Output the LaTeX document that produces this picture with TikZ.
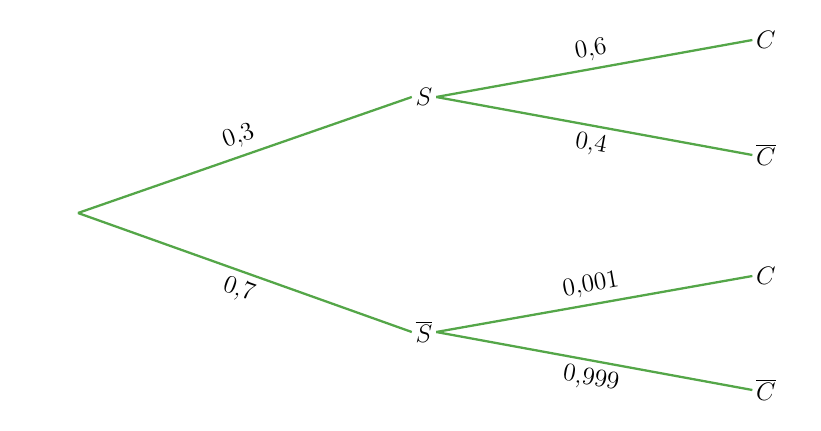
\documentclass[tikz,border=0pt]{standalone}
\definecolor{branchgreen}{RGB}{84,166,72}
\begin{document}
\begin{tikzpicture}[x=0.02cm, y=-0.02cm, font=\fontsize{14}{16}\selectfont]
  \tikzset{branch/.style={draw=branchgreen, line width=1.3pt},
           prob/.style={sloped, inner sep=4pt}}
  \useasboundingbox (0,0) rectangle (821,430);
  \coordinate (R) at (78,213);
  \node[inner sep=2pt] (S) at (424,97) {$S$};
  \node[inner sep=2pt] (Sb) at (424,332) {$\overline{S}$};
  \node[inner sep=2pt] (C1) at (766,40) {$C$};
  \node[inner sep=2pt] (C2) at (766,155) {$\overline{C}$};
  \node[inner sep=2pt] (C3) at (766,276) {$C$};
  \node[inner sep=2pt] (C4) at (766,390) {$\overline{C}$};
  \draw[branch] (R) -- node[prob, above] {$0{,}3$} (S.west);
  \draw[branch] (R) -- node[prob, below] {$0{,}7$} (Sb.west);
  \draw[branch] (S.east) -- node[prob, above] {$0{,}6$} (C1.west);
  \draw[branch] (S.east) -- node[prob, below] {$0{,}4$} (C2.west);
  \draw[branch] (Sb.east) -- node[prob, above] {$0{,}001$} (C3.west);
  \draw[branch] (Sb.east) -- node[prob, below] {$0{,}999$} (C4.west);
\end{tikzpicture}
\end{document}
